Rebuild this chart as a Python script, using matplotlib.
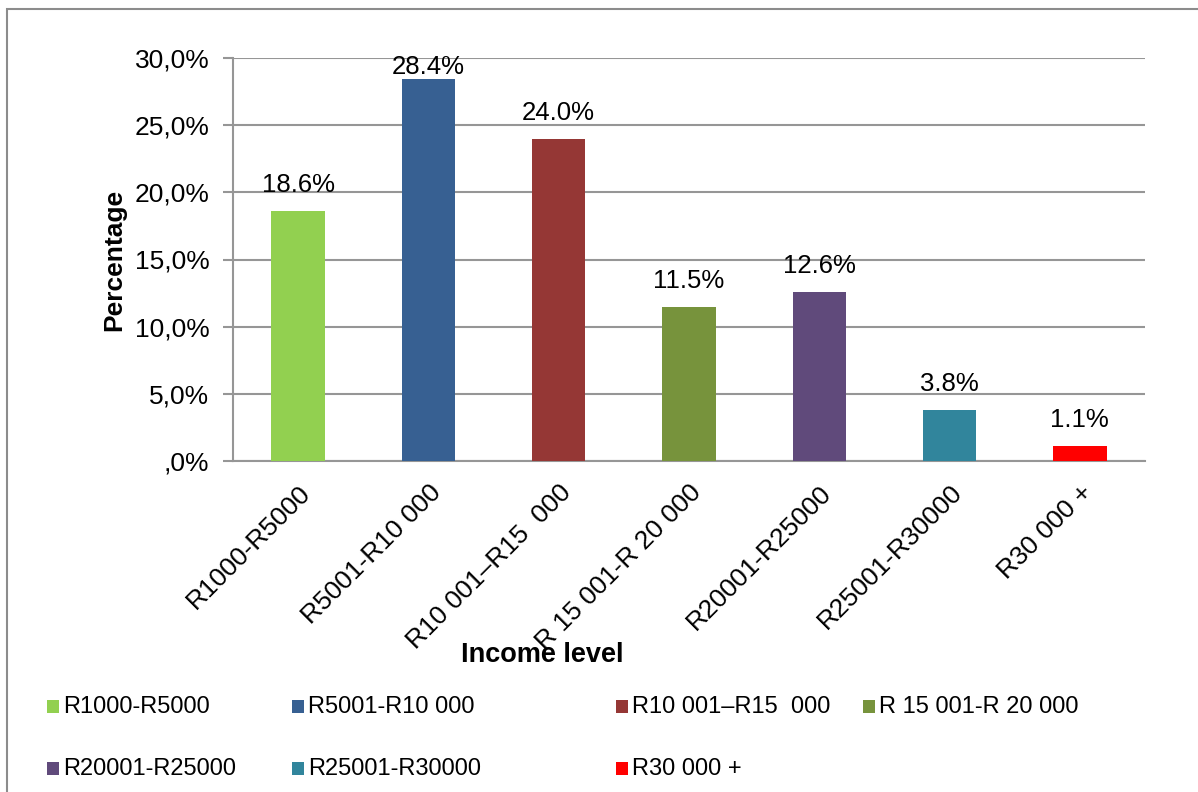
import matplotlib
matplotlib.use("Agg")
import matplotlib.pyplot as plt
from matplotlib.patches import Rectangle

plt.rcParams['font.family'] = ['Liberation Sans', 'DejaVu Sans']

categories = ["R1000-R5000", "R5001-R10 000", "R10 001\u2013R15  000",
              "R 15 001-R 20 000", "R20001-R25000", "R25001-R30000", "R30 000 +"]
values = [18.6, 28.4, 24.0, 11.5, 12.6, 3.8, 1.1]
colors = ["#92D050", "#376092", "#953735", "#77933C", "#604A7B", "#31859C", "#FF0000"]
yticks = [0, 5, 10, 15, 20, 25, 30]
ytick_labels = [",0%", "5,0%", "10,0%", "15,0%", "20,0%", "25,0%", "30,0%"]

W, H = 1198, 792
fig = plt.figure(figsize=(W / 100, H / 100), dpi=100)

# outer chart frame (only the top and left edges fall inside the canvas)
fig.patches.append(Rectangle((7 / W, -0.05), 1.2, 1 - 8.5 / H - (-0.05),
                             transform=fig.transFigure, fill=False,
                             edgecolor="#8c8c8c", linewidth=1.5))

ax = fig.add_axes([233 / W, 1 - 461 / H, (1145 - 233) / W, (461 - 58) / H])
x = list(range(len(categories)))
bars = ax.bar(x, values, width=0.41, color=colors, zorder=3)

ymax = 30
ax.set_xlim(-0.5, len(categories) - 0.5)
ax.set_ylim(0, ymax)
ax.set_yticks(yticks)
ax.set_yticklabels(ytick_labels, fontsize=19)
ax.yaxis.grid(True, color="#969696", linewidth=1.5, zorder=0)
ax.tick_params(axis="y", length=7, width=1.5, color="#969696", pad=10)
ax.tick_params(axis="x", length=0, pad=14)
for s in ["top", "right"]:
    ax.spines[s].set_visible(False)
for s in ["left", "bottom"]:
    ax.spines[s].set_color("#969696")
    ax.spines[s].set_linewidth(1.5)

ax.set_xticks(x)
ax.set_xticklabels(categories, rotation=45, ha="right", va="top",
                   rotation_mode="anchor", fontsize=19)

# value labels; a label that would leave the plot area is pinned to its top edge
for xi, v in zip(x, values):
    if v > ymax - 3:
        ax.annotate(f"{v:.1f}%", (xi, ymax), xytext=(0, 2), textcoords="offset points",
                    ha="center", va="top", fontsize=18.5, zorder=4)
    else:
        ax.annotate(f"{v:.1f}%", (xi, v), xytext=(0, 10), textcoords="offset points",
                    ha="center", va="bottom", fontsize=18.5, zorder=4)

fig.text(114 / W, 1 - 260 / H, "Percentage", rotation=90, ha="center",
         va="center", fontsize=19, fontweight="bold")
fig.text(542 / W, 1 - 655 / H, "Income level", ha="center", va="center",
         fontsize=19.5, fontweight="bold")

# legend
legend_cols = [47, 292, 616, 863]
legend_rows = [707, 769]
for i, (lab, col) in enumerate(zip(categories, colors)):
    r, c = divmod(i, 4)
    lx = legend_cols[c]
    ly = legend_rows[r]
    fig.patches.append(Rectangle((lx / W, 1 - (ly + 6) / H), 12 / W, 13 / H,
                                 transform=fig.transFigure, facecolor=col,
                                 edgecolor="none"))
    fig.text((lx + 16) / W, 1 - ly / H, lab, ha="left", va="center", fontsize=17)

fig.savefig("out.png", dpi=100)
